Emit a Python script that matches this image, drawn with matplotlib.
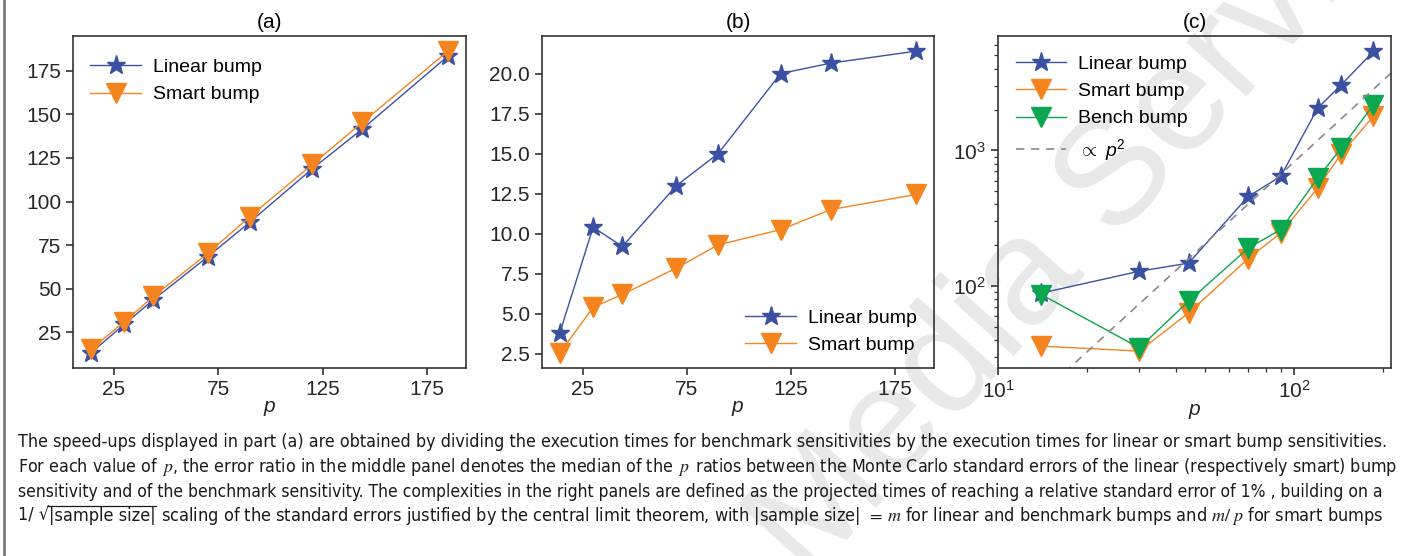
import matplotlib
matplotlib.use("Agg")
import matplotlib.pyplot as plt
from matplotlib.ticker import NullFormatter
import numpy as np

# values
p = [14, 30, 44, 70, 90, 120, 144, 185]

speedup_linear = [13.0, 29.4, 43.6, 68.3, 88.0, 118.8, 141.7, 183.6]
speedup_smart = [15.1, 30.9, 45.5, 70.2, 91.2, 121.3, 145.5, 186.4]

ratio_linear = [3.8, 10.4, 9.2, 13.0, 15.0, 20.0, 20.65, 21.4]
ratio_smart = [2.55, 5.4, 6.2, 7.85, 9.3, 10.25, 11.5, 12.45]

cost_linear = [89, 129, 148, 459, 644, 2050, 3040, 5350]
cost_smart = [36.2, 33.3, 63.7, 160, 247, 528, 945, 1780]
cost_bench = [86.9, 35.2, 77.6, 191, 261, 626, 1040, 2167]

p2_const = 0.0824      # scale of the "propto p^2" guide line
p2_range = [10, 215]

caption = [
    "The speed-ups displayed in part (a) are obtained by dividing the execution times for benchmark sensitivities "
    "by the execution times for linear or smart bump sensitivities.",
    r"For each value of $\,p$, the error ratio in the middle panel denotes the median of the $\,p\,$ ratios between the "
    "Monte Carlo standard errors of the linear (respectively smart) bump",
    "sensitivity and of the benchmark sensitivity. The complexities in the right panels are defined as the projected "
    "times of reaching a relative standard error of 1% , building on a",
]
caption_sizes = [12.8, 12.75, 12.55]
caption_root = "1/ \u221a"
caption_sample = "|sample size|"
caption_rest = (r" scaling of the standard errors justified by the central limit theorem, "
                r"with |sample size| $\,=\,m$ for linear and benchmark bumps and $m/\;p$ for smart bumps")

BLUE = "#3a51a3"
ORANGE = "#f5841f"
GREEN = "#0aa650"
DARK = "#262626"

plt.rcParams["font.family"] = ["Liberation Sans", "DejaVu Sans"]
plt.rcParams["mathtext.fontset"] = "custom"
plt.rcParams["mathtext.rm"] = "Liberation Sans"
plt.rcParams["mathtext.it"] = "Liberation Sans:italic"
plt.rcParams["mathtext.bf"] = "Liberation Sans:bold"
plt.rcParams["axes.edgecolor"] = "#333333"
plt.rcParams["axes.linewidth"] = 1.2
plt.rcParams["xtick.color"] = "#333333"
plt.rcParams["ytick.color"] = "#333333"
plt.rcParams["xtick.labelcolor"] = DARK
plt.rcParams["ytick.labelcolor"] = DARK

fig = plt.figure(figsize=(14.11, 5.56), dpi=100)

# faint watermark behind everything
fig.text(0.5727, -0.0486, "Media Services", rotation=48, rotation_mode="anchor",
         ha="left", va="baseline", fontsize=110, color="#e8e8e8", zorder=-5)

# thin frame line on the left edge
fig.add_artist(plt.Line2D([0.0025, 0.0025], [0, 1], color="#7a7a7a", lw=2,
                          transform=fig.transFigure))

bottom, height = 0.3381, 0.5971
ax_a = fig.add_axes([0.0517, bottom, 0.2785, height])
ax_b = fig.add_axes([0.3841, bottom, 0.2778, height])
ax_c = fig.add_axes([0.7073, bottom, 0.2785, height])

mk = dict(markersize=14, lw=1.0)
leg = dict(frameon=False, fontsize=14, handlelength=2.6, handletextpad=0.6)

ax_a.plot(p, speedup_linear, marker="*", color=BLUE, label="Linear bump", **mk)
ax_a.plot(p, speedup_smart, marker="v", color=ORANGE, label="Smart bump", **mk)
ax_a.set_yticks([25, 50, 75, 100, 125, 150, 175])
ax_a.legend(loc="upper left", bbox_to_anchor=(0.0, 0.985), **leg)
ax_a.set_title("(a)", fontsize=15)

ax_b.plot(p, ratio_linear, marker="*", color=BLUE, label="Linear bump", **mk)
ax_b.plot(p, ratio_smart, marker="v", color=ORANGE, label="Smart bump", **mk)
ax_b.set_yticks([2.5, 5.0, 7.5, 10.0, 12.5, 15.0, 17.5, 20.0])
ax_b.legend(loc="lower right", bbox_to_anchor=(1.0, -0.01), **leg)
ax_b.set_title("(b)", fontsize=15)

for ax in (ax_a, ax_b):
    ax.set_xticks([25, 75, 125, 175])

ax_c.plot(p, cost_linear, marker="*", color=BLUE, label="Linear bump", **mk)
ax_c.plot(p, cost_smart, marker="v", color=ORANGE, label="Smart bump", **mk)
ax_c.plot(p, cost_bench, marker="v", color=GREEN, label="Bench bump", **mk)
ax_c.plot(p2_range, [p2_const * v ** 2 for v in p2_range], ls=(0, (5, 4)),
          color="#8a8a8a", lw=1.2, label=r"$\propto\ p^2$")
ax_c.set_xscale("log")
ax_c.set_yscale("log")
ax_c.set_xlim(10, 212)
ax_c.set_ylim(25, 6950)
ax_c.xaxis.set_minor_formatter(NullFormatter())
ax_c.yaxis.set_minor_formatter(NullFormatter())
ax_c.legend(loc="upper left", bbox_to_anchor=(0.0, 0.995), **leg)
ax_c.set_title("(c)", fontsize=15)

for ax in (ax_a, ax_b, ax_c):
    ax.set_facecolor("none")
    ax.set_xlabel("$p$", fontsize=15, labelpad=0, color=DARK)
    ax.tick_params(labelsize=15, width=1.2, length=5)
    ax.tick_params(which="minor", width=0.9, length=3)

# caption under the panels
cap_font = dict(family=["Liberation Sans Narrow", "DejaVu Sans"],
                stretch="condensed", color="#1a1a1a", math_fontfamily="stix")
ys = [442, 467, 492]
for line, y, fs in zip(caption, ys, caption_sizes):
    fig.text(18 / 1411, 1 - y / 556, line, ha="left", va="center", fontsize=fs, **cap_font)

t_root = fig.text(18 / 1411, 1 - 516 / 556, caption_root, ha="left", va="center",
                  fontsize=13.0, **cap_font)
t_sample = ax_a.annotate(caption_sample, xy=(1.0, 0.5), xycoords=t_root, ha="left",
                         va="center", annotation_clip=False, fontsize=13.0, **cap_font)
ax_a.annotate(caption_rest, xy=(1.0, 0.5), xycoords=t_sample, ha="left", va="center",
              annotation_clip=False, fontsize=13.0, **cap_font)

# bar of the square root over |sample size|
fig.canvas.draw()
bb_root = t_root.get_window_extent()
bb = t_sample.get_window_extent()
inv = fig.transFigure.inverted()
(x0, y0), (x1, y1) = inv.transform([(bb_root.x1 - 1.5, bb.y1 + 1), (bb.x1, bb.y1 + 1)])
fig.add_artist(plt.Line2D([x0, x1], [y0, y1], color="#1a1a1a", lw=0.9,
                          transform=fig.transFigure))

fig.savefig("out.png", dpi=100)
